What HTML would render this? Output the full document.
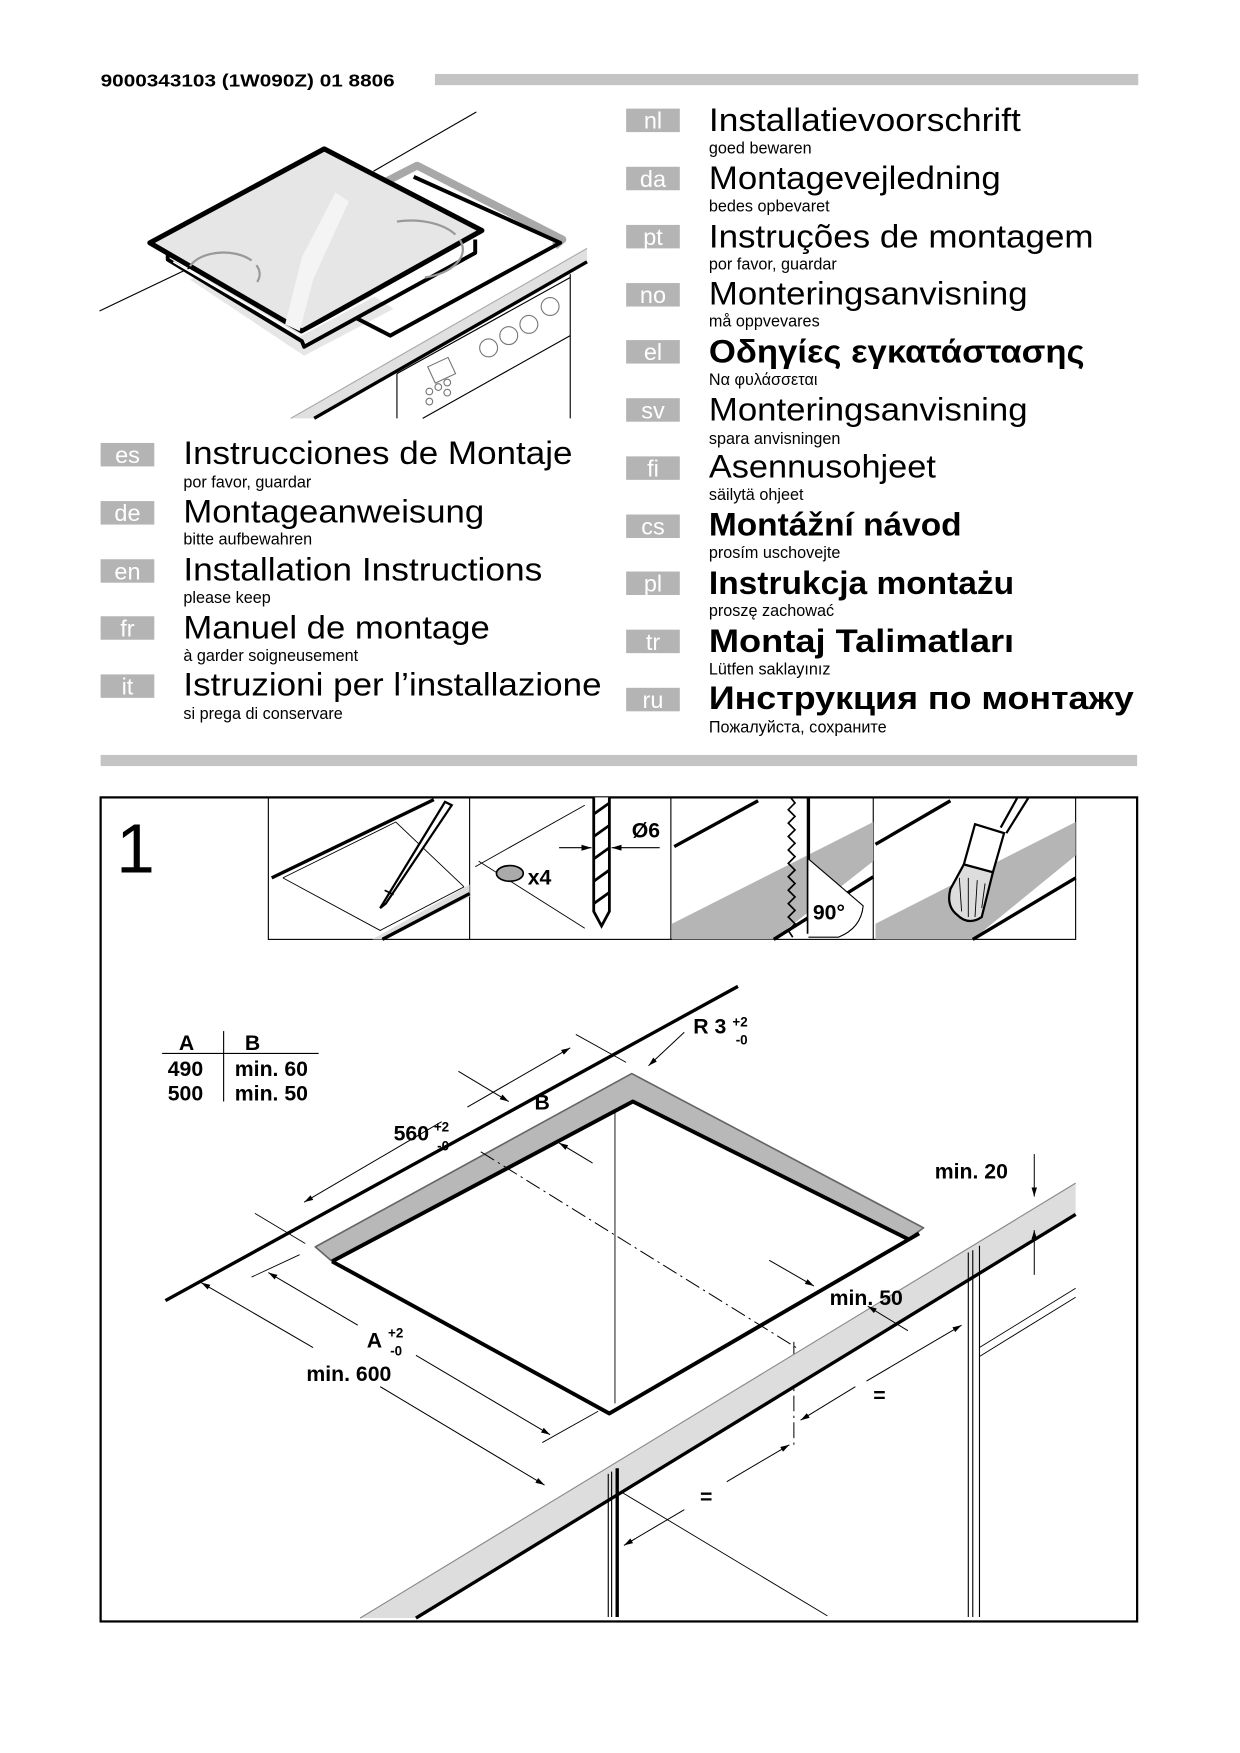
<!DOCTYPE html>
<html><head><meta charset="utf-8"><style>
html,body{margin:0;padding:0;background:#fff}
svg{display:block}
text{font-family:"Liberation Sans",sans-serif}
.t{font-size:29px;fill:#000}
.s{font-size:14.5px;fill:#000}
.tag{font-size:21px;fill:#fff}
.b{font-weight:bold}
.d{font-size:19px;font-weight:bold}
</style></head><body>
<svg width="1240" height="1753" viewBox="0 0 1109 1567.5" xmlns="http://www.w3.org/2000/svg">
<defs><marker id="ar" viewBox="0 0 10 10" refX="10" refY="5" markerWidth="9" markerHeight="9" orient="auto-start-reverse"><path d="M0,2 L10,5 L0,8 z" fill="#000"/></marker></defs>
<text x="90" y="77" style="font-size:16px;font-weight:bold" textLength="263" lengthAdjust="spacingAndGlyphs">9000343103 (1W090Z) 01 8806</text>
<rect x="389" y="66" width="629" height="10" fill="#c4c4c4"/>
<rect x="90" y="675" width="927" height="10" fill="#c4c4c4"/>

<!-- hob illustration -->
<g>
<line x1="89" y1="278" x2="175" y2="237" stroke="#000" stroke-width="1"/>
<line x1="334" y1="153" x2="426" y2="100" stroke="#000" stroke-width="1"/>
<polygon points="170,250 272,318 352,276 250,210" fill="#e6e6e6"/>
<polyline points="330,170 373,148 503,214 496,220" fill="none" stroke="#a8a8a8" stroke-width="7" stroke-linejoin="round"/>
<polyline points="370,158 501,217 349,300 318,284" fill="none" stroke="#000" stroke-width="3.5" stroke-linejoin="round"/>
<polygon points="134,217 290,133 431,206 270,296" fill="#e6e6e6" stroke="#000" stroke-width="4.5" stroke-linejoin="round"/>
<polyline points="150,226 150,232 270,305 272,310 425,226 425,214" fill="none" stroke="#000" stroke-width="3.5" stroke-linejoin="round"/>
<polyline points="155,234 268,300 418,220" fill="none" stroke="#fff" stroke-width="1.5"/>
<path d="M170,238 A30,18 0 1,1 230,252" fill="none" stroke="#999" stroke-width="2" stroke-dasharray="60,6"/>
<path d="M355,198 A34,19 0 1,1 380,248" fill="none" stroke="#999" stroke-width="2" stroke-dasharray="55,6"/>
<polygon points="255,290 270,230 300,172 312,180 280,250 268,296" fill="#f4f4f4"/>
<polygon points="260,374 525,222 525,234 281,374" fill="#e0e0e0"/>
<line x1="260" y1="374" x2="525" y2="222" stroke="#aaa" stroke-width="1"/>
<line x1="281" y1="374" x2="525" y2="234" stroke="#000" stroke-width="3"/>
<line x1="355" y1="334" x2="355" y2="374" stroke="#000" stroke-width="1"/>
<line x1="510" y1="245" x2="510" y2="374" stroke="#000" stroke-width="1"/>
<line x1="355" y1="334" x2="510" y2="248" stroke="#000" stroke-width="1"/>
<line x1="378" y1="374" x2="510" y2="300" stroke="#000" stroke-width="1"/>
<g fill="none" stroke="#777" stroke-width="1"><circle cx="437" cy="311" r="8"/><circle cx="455" cy="300" r="8"/><circle cx="473" cy="290" r="8"/><circle cx="492" cy="274" r="8"/><rect x="385" y="323" width="20" height="16" transform="rotate(-25 395 331)"/><circle cx="384" cy="350" r="3"/><circle cx="392" cy="346" r="3"/><circle cx="400" cy="342" r="3"/><circle cx="384" cy="359" r="3"/><circle cx="400" cy="351" r="3"/></g>
</g>

<!-- left languages -->
<g>
<rect x="90" y="396" width="48" height="21" fill="#b4b4b4"/><text x="114" y="414" class="tag" text-anchor="middle">es</text>
<text x="164" y="415" class="t" textLength="348" lengthAdjust="spacingAndGlyphs">Instrucciones de Montaje</text><text x="164" y="436" class="s">por favor, guardar</text>
<rect x="90" y="448" width="48" height="21" fill="#b4b4b4"/><text x="114" y="466" class="tag" text-anchor="middle">de</text>
<text x="164" y="467" class="t" textLength="269" lengthAdjust="spacingAndGlyphs">Montageanweisung</text><text x="164" y="487" class="s">bitte aufbewahren</text>
<rect x="90" y="500" width="48" height="21" fill="#b4b4b4"/><text x="114" y="518" class="tag" text-anchor="middle">en</text>
<text x="164" y="519" class="t" textLength="321" lengthAdjust="spacingAndGlyphs">Installation Instructions</text><text x="164" y="539" class="s">please keep</text>
<rect x="90" y="551" width="48" height="21" fill="#b4b4b4"/><text x="114" y="569" class="tag" text-anchor="middle">fr</text>
<text x="164" y="571" class="t" textLength="274" lengthAdjust="spacingAndGlyphs">Manuel de montage</text><text x="164" y="591" class="s">à garder soigneusement</text>
<rect x="90" y="603" width="48" height="21" fill="#b4b4b4"/><text x="114" y="621" class="tag" text-anchor="middle">it</text>
<text x="164" y="622" class="t" textLength="374" lengthAdjust="spacingAndGlyphs">Istruzioni per l’installazione</text><text x="164" y="643" class="s">si prega di conservare</text>
</g>
<!-- right languages -->
<g>
<rect x="560" y="97" width="48" height="21" fill="#b4b4b4"/><text x="584" y="115" class="tag" text-anchor="middle">nl</text>
<text x="634" y="117" class="t" textLength="279" lengthAdjust="spacingAndGlyphs">Installatievoorschrift</text><text x="634" y="137" class="s">goed bewaren</text>
<rect x="560" y="149" width="48" height="21" fill="#b4b4b4"/><text x="584" y="167" class="tag" text-anchor="middle">da</text>
<text x="634" y="169" class="t" textLength="261" lengthAdjust="spacingAndGlyphs">Montagevejledning</text><text x="634" y="189" class="s">bedes opbevaret</text>
<rect x="560" y="201" width="48" height="21" fill="#b4b4b4"/><text x="584" y="219" class="tag" text-anchor="middle">pt</text>
<text x="634" y="221" class="t" textLength="344" lengthAdjust="spacingAndGlyphs">Instruções de montagem</text><text x="634" y="241" class="s">por favor, guardar</text>
<rect x="560" y="253" width="48" height="21" fill="#b4b4b4"/><text x="584" y="271" class="tag" text-anchor="middle">no</text>
<text x="634" y="272" class="t" textLength="285" lengthAdjust="spacingAndGlyphs">Monteringsanvisning</text><text x="634" y="292" class="s">må oppvevares</text>
<rect x="560" y="304" width="48" height="21" fill="#b4b4b4"/><text x="584" y="322" class="tag" text-anchor="middle">el</text>
<text x="634" y="324" class="t b" textLength="336" lengthAdjust="spacingAndGlyphs">Οδηγίες εγκατάστασης</text><text x="634" y="344" class="s">Να φυλάσσεται</text>
<rect x="560" y="356" width="48" height="21" fill="#b4b4b4"/><text x="584" y="374" class="tag" text-anchor="middle">sv</text>
<text x="634" y="376" class="t" textLength="285" lengthAdjust="spacingAndGlyphs">Monteringsanvisning</text><text x="634" y="397" class="s">spara anvisningen</text>
<rect x="560" y="408" width="48" height="21" fill="#b4b4b4"/><text x="584" y="426" class="tag" text-anchor="middle">fi</text>
<text x="634" y="427" class="t" textLength="203" lengthAdjust="spacingAndGlyphs">Asennusohjeet</text><text x="634" y="447" class="s">säilytä ohjeet</text>
<rect x="560" y="460" width="48" height="21" fill="#b4b4b4"/><text x="584" y="478" class="tag" text-anchor="middle">cs</text>
<text x="634" y="479" class="t b" textLength="226" lengthAdjust="spacingAndGlyphs">Montážní návod</text><text x="634" y="499" class="s">prosím uschovejte</text>
<rect x="560" y="511" width="48" height="21" fill="#b4b4b4"/><text x="584" y="529" class="tag" text-anchor="middle">pl</text>
<text x="634" y="531" class="t b" textLength="273" lengthAdjust="spacingAndGlyphs">Instrukcja montażu</text><text x="634" y="551" class="s">proszę zachować</text>
<rect x="560" y="563" width="48" height="21" fill="#b4b4b4"/><text x="584" y="581" class="tag" text-anchor="middle">tr</text>
<text x="634" y="583" class="t b" textLength="273" lengthAdjust="spacingAndGlyphs">Montaj Talimatları</text><text x="634" y="603" class="s">Lütfen saklayınız</text>
<rect x="560" y="615" width="48" height="21" fill="#b4b4b4"/><text x="584" y="633" class="tag" text-anchor="middle">ru</text>
<text x="634" y="634" class="t b" textLength="380" lengthAdjust="spacingAndGlyphs">Инструкция по монтажу</text><text x="634" y="655" class="s">Пожалуйста, сохраните</text>
</g>

<!-- main box -->
<rect x="90" y="713" width="927" height="737" fill="none" stroke="#000" stroke-width="2"/>
<text x="104" y="780" style="font-size:62px">1</text>
<rect x="240" y="713" width="722" height="127" fill="none" stroke="#000" stroke-width="1"/>
<line x1="420" y1="713" x2="420" y2="840" stroke="#000"/>
<line x1="600" y1="713" x2="600" y2="840" stroke="#000"/>
<line x1="781" y1="713" x2="781" y2="840" stroke="#000"/>
<!-- panel 1 -->
<g stroke="#000" fill="none">
<line x1="243" y1="785" x2="388" y2="715" stroke-width="3"/>
<polygon points="333,840 420,791 420,802 342,840" fill="#ddd" stroke="none"/>
<line x1="342" y1="840" x2="420" y2="799" stroke-width="3"/>
<polyline points="253,785 340,832 415,793" stroke-width="0.8"/>
<polyline points="253,785 354,735 415,793" stroke-width="0.8"/>
<polygon points="340,812 398,717 404,720 345,808" fill="#fff" stroke-width="2"/>
<line x1="344" y1="796" x2="352" y2="800" stroke-width="1.5"/>
</g>
<!-- panel 2 -->
<g stroke="#000" fill="none">
<line x1="425" y1="775" x2="523" y2="720" stroke-width="0.8"/>
<line x1="428" y1="770" x2="523" y2="830" stroke-width="0.8"/>
<ellipse cx="456" cy="781" rx="12" ry="7" fill="#aaa" stroke-width="1.5"/>
<path d="M531,713 L531,815 L538,828 L545,815 L545,713" fill="#fff" stroke-width="2.5"/>
<path d="M531,728 L545,718 M531,748 L545,738 M531,768 L545,758 M531,788 L545,778 M531,808 L545,798" stroke-width="2.5"/>
<line x1="500" y1="758" x2="529" y2="758" stroke-width="1" marker-end="url(#ar)"/>
<line x1="590" y1="758" x2="547" y2="758" stroke-width="1" marker-end="url(#ar)"/>
</g>
<text x="472" y="791" class="d">x4</text>
<text x="565" y="749" class="d">Ø6</text>
<!-- panel 3 -->
<polygon points="601,826 781,735 781,770 692,840 601,840" fill="#b5b5b5"/>
<g stroke="#000" fill="none">
<line x1="603" y1="757" x2="678" y2="716" stroke-width="3"/>
<line x1="692" y1="840" x2="781" y2="784" stroke-width="3"/>
<polyline points="707,713 711,718 705,724 711,730 705,736 711,742 705,748 711,754 705,760 711,766 705,772 711,778 705,784 711,790 705,796 711,802 705,808 711,814 705,820 711,826 705,832 709,838" stroke-width="1.5"/>
<line x1="723" y1="713" x2="723" y2="835" stroke-width="3"/>
<path d="M723,768 L772,810 Q770,830 750,838 L723,838" fill="#fff" stroke-width="1"/>
</g>
<text x="727" y="822" class="d">90°</text>
<!-- panel 4 -->
<polygon points="783,826 962,735 962,765 870,840 783,840" fill="#b5b5b5"/>
<g stroke="#000" fill="none">
<line x1="783" y1="755" x2="850" y2="716" stroke-width="3"/>
<line x1="870" y1="840" x2="962" y2="785" stroke-width="3"/>
<path d="M895,740 L910,713 M900,745 L920,713" stroke-width="2"/>
<polygon points="872,737 898,745 888,780 862,773" fill="#fff" stroke-width="2"/>
<path d="M862,773 L888,780 L878,820 Q866,828 856,818 Q846,810 850,795 Z" fill="#ddd" stroke-width="2"/>
<path d="M858,785 L860,815 M866,785 L866,820 M874,787 L872,820 M881,790 L878,812" stroke-width="0.8"/>
</g>

<!-- main drawing -->
<g stroke="#000" fill="none">
<line x1="148" y1="1163" x2="660" y2="882" stroke-width="3"/>
<line x1="145" y1="942" x2="285" y2="942" stroke-width="1"/>
<line x1="200" y1="922" x2="200" y2="985" stroke-width="1"/>
<polygon points="282,1115 565,960 826,1098 812,1108 566,985 297,1128" fill="#b8b8b8" stroke="#666" stroke-width="1.5" stroke-linejoin="round"/>
<polyline points="297,1128 566,985 812,1108" stroke-width="3.5" stroke-linejoin="round"/>
<polyline points="297,1128 545,1264 822,1103" stroke-width="3.5" stroke-linejoin="round"/>
<line x1="550" y1="995" x2="550" y2="1255" stroke-width="0.8"/>
<line x1="430" y1="1030" x2="712" y2="1205" stroke-width="0.9" stroke-dasharray="14,4,2,4"/>
<line x1="710" y1="1200" x2="710" y2="1295" stroke-width="0.9" stroke-dasharray="14,4,2,4"/>
<polygon points="322,1447 962,1058 962,1086 372,1447" fill="#ddd" stroke="none"/>
<line x1="322" y1="1447" x2="962" y2="1058" stroke="#888" stroke-width="1"/>
<line x1="372" y1="1447" x2="962" y2="1086" stroke-width="3"/>
<line x1="544" y1="1318" x2="544" y2="1446" stroke-width="1"/>
<line x1="547" y1="1316" x2="547" y2="1446" stroke-width="1"/>
<line x1="552" y1="1313" x2="552" y2="1446" stroke-width="3"/>
<line x1="866" y1="1120" x2="866" y2="1446" stroke-width="1"/>
<line x1="870" y1="1118" x2="870" y2="1446" stroke-width="1"/>
<line x1="876" y1="1114" x2="876" y2="1446" stroke-width="1"/>
<line x1="876" y1="1205" x2="962" y2="1152" stroke-width="0.8"/>
<line x1="876" y1="1213" x2="962" y2="1160" stroke-width="0.8"/>
<line x1="557" y1="1335" x2="740" y2="1445" stroke-width="0.8"/>
<line x1="272" y1="1075" x2="395" y2="1003" stroke-width="0.9" marker-start="url(#ar)"/>
<line x1="418" y1="990" x2="510" y2="937" stroke-width="0.9" marker-end="url(#ar)"/>
<line x1="228" y1="1085" x2="273" y2="1112" stroke-width="0.8"/>
<line x1="515" y1="925" x2="560" y2="950" stroke-width="0.8"/>
<line x1="410" y1="958" x2="455" y2="985" stroke-width="0.9" marker-end="url(#ar)"/>
<line x1="530" y1="1040" x2="500" y2="1022" stroke-width="0.9" marker-end="url(#ar)"/>
<line x1="612" y1="923" x2="580" y2="953" stroke-width="0.9" marker-end="url(#ar)"/>
<line x1="180" y1="1147" x2="280" y2="1205" stroke-width="0.9" marker-start="url(#ar)"/>
<line x1="340" y1="1240" x2="487" y2="1328" stroke-width="0.9" marker-end="url(#ar)"/>
<line x1="240" y1="1138" x2="320" y2="1185" stroke-width="0.9" marker-start="url(#ar)"/>
<line x1="372" y1="1212" x2="492" y2="1283" stroke-width="0.9" marker-end="url(#ar)"/>
<line x1="225" y1="1142" x2="268" y2="1122" stroke-width="0.8"/>
<line x1="485" y1="1290" x2="535" y2="1262" stroke-width="0.8"/>
<line x1="688" y1="1127" x2="728" y2="1150" stroke-width="0.9" marker-end="url(#ar)"/>
<line x1="812" y1="1190" x2="776" y2="1168" stroke-width="0.9" marker-end="url(#ar)"/>
<line x1="925" y1="1032" x2="925" y2="1070" stroke-width="0.9" marker-end="url(#ar)"/>
<line x1="925" y1="1140" x2="925" y2="1100" stroke-width="0.9" marker-end="url(#ar)"/>
<line x1="775" y1="1235" x2="860" y2="1185" stroke-width="0.9" marker-end="url(#ar)"/>
<line x1="765" y1="1240" x2="716" y2="1270" stroke-width="0.9" marker-end="url(#ar)"/>
<line x1="650" y1="1325" x2="706" y2="1292" stroke-width="0.9" marker-end="url(#ar)"/>
<line x1="612" y1="1350" x2="558" y2="1382" stroke-width="0.9" marker-end="url(#ar)"/>
</g>
<text x="160" y="939" class="d">A</text><text x="219" y="939" class="d">B</text>
<text x="150" y="962" class="d">490</text><text x="210" y="962" class="d">min. 60</text>
<text x="150" y="984" class="d">500</text><text x="210" y="984" class="d">min. 50</text>
<text x="620" y="924" class="d">R 3</text><text x="655" y="918" style="font-size:12px;font-weight:bold">+2</text><text x="658" y="934" style="font-size:12px;font-weight:bold">-0</text>
<text x="478" y="992" class="d">B</text>
<text x="352" y="1020" class="d">560</text><text x="388" y="1012" style="font-size:12px;font-weight:bold">+2</text><text x="391" y="1029" style="font-size:12px;font-weight:bold">-0</text>
<text x="836" y="1054" class="d">min. 20</text>
<text x="742" y="1167" class="d">min. 50</text>
<text x="328" y="1205" class="d">A</text><text x="347" y="1196" style="font-size:12px;font-weight:bold">+2</text><text x="349" y="1212" style="font-size:12px;font-weight:bold">-0</text>
<text x="274" y="1235" class="d">min. 600</text>
<text x="781" y="1254" class="d">=</text>
<text x="626" y="1345" class="d">=</text>
</svg>
</body></html>
